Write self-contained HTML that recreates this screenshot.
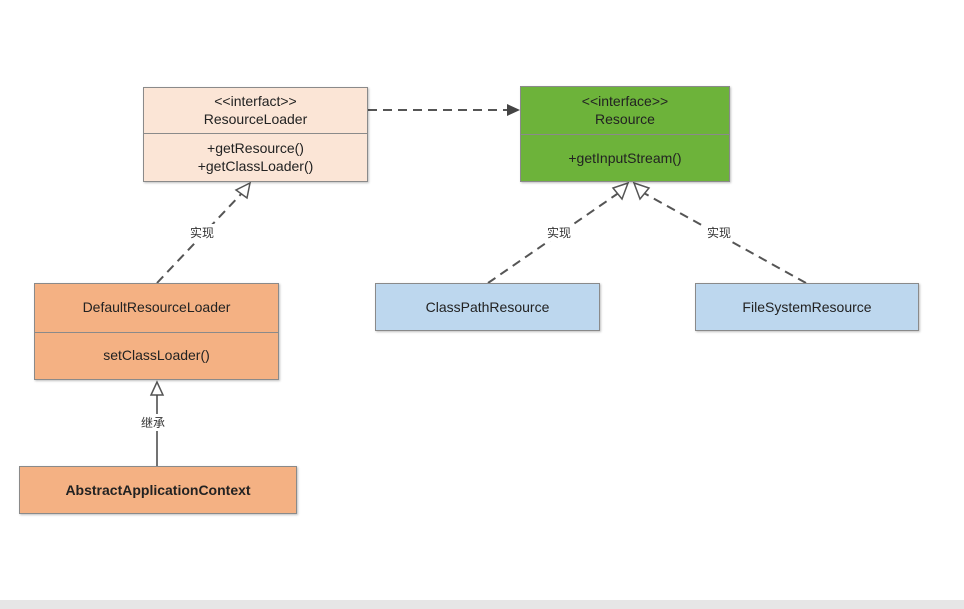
<!DOCTYPE html>
<html><head><meta charset="utf-8"><style>
body{margin:0;width:964px;height:609px;background:#fff;position:relative;overflow:hidden;font-family:"Liberation Sans","Noto Sans CJK SC",sans-serif;}
.b{position:absolute;box-sizing:border-box;border:1px solid #8a8a8a;text-align:center;font-size:14px;color:#222;box-shadow:1px 1px 2px rgba(0,0,0,.25);}
.s{position:absolute;left:0;right:0;border-top:1px solid #8a8a8a;}
.t{position:absolute;left:0;right:0;text-align:center;line-height:18px;}
.l{position:absolute;font-size:12px;color:#333;background:#fff;padding:0 2px;}
</style></head><body>
<svg width="964" height="609" style="position:absolute;left:0;top:0">
<g stroke="#555" stroke-width="2" fill="none" stroke-dasharray="9,6">
<line x1="368" y1="110" x2="508" y2="110"/>
<line x1="157" y1="283" x2="243" y2="192"/>
<line x1="488" y1="283" x2="620" y2="192"/>
<line x1="806" y1="283" x2="642" y2="192"/>
</g>
<polygon points="520,110 507,104 507,116" fill="#444"/>
<g fill="#fff" stroke="#555" stroke-width="1.5">
<polygon points="250,183 236,190 247,198"/>
<polygon points="628,183 613,188 622,199"/>
<polygon points="634,183 649,188 640,199"/>
<polygon points="157,382 151,395 163,395"/>
</g>
<line x1="157" y1="395" x2="157" y2="466" stroke="#444" stroke-width="1.5"/>
<rect x="0" y="600" width="964" height="9" fill="#e6e6e6"/>
</svg>
<div class="b" style="left:143px;top:87px;width:225px;height:95px;background:#fbe5d6"><div class="t" style="top:4px">&lt;&lt;interfact&gt;&gt;<br>ResourceLoader</div><div class="s" style="top:45px"></div><div class="t" style="top:51px">+getResource()<br>+getClassLoader()</div></div>
<div class="b" style="left:520px;top:86px;width:210px;height:96px;background:#6db33a"><div class="t" style="top:5px">&lt;&lt;interface&gt;&gt;<br>Resource</div><div class="s" style="top:47px"></div><div class="t" style="top:62px">+getInputStream()</div></div>
<div class="b" style="left:375px;top:283px;width:225px;height:48px;background:#bdd7ee"><div class="t" style="top:14px">ClassPathResource</div></div>
<div class="b" style="left:695px;top:283px;width:224px;height:48px;background:#bdd7ee"><div class="t" style="top:14px">FileSystemResource</div></div>
<div class="b" style="left:34px;top:283px;width:245px;height:97px;background:#f4b183"><div class="t" style="top:14px">DefaultResourceLoader</div><div class="s" style="top:48px"></div><div class="t" style="top:62px">setClassLoader()</div></div>
<div class="b" style="left:19px;top:466px;width:278px;height:48px;background:#f4b183;font-weight:bold"><div class="t" style="top:14px">AbstractApplicationContext</div></div>
<div class="l" style="left:188px;top:224px">实现</div>
<div class="l" style="left:545px;top:224px">实现</div>
<div class="l" style="left:705px;top:224px">实现</div>
<div class="l" style="left:139px;top:414px">继承</div>
</body></html>
